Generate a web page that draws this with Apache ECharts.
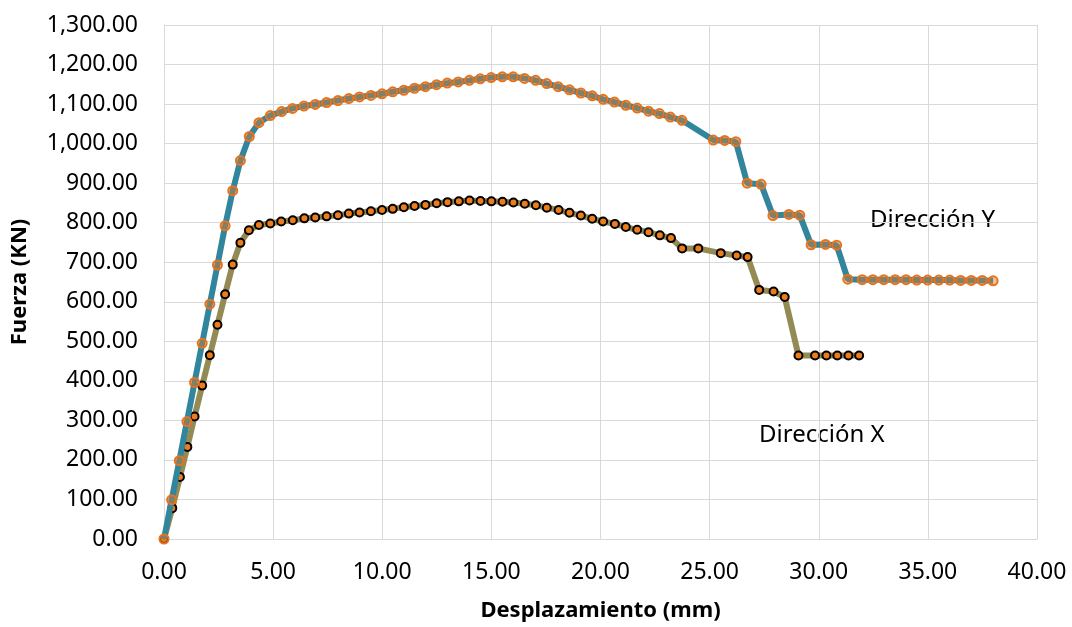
<!DOCTYPE html>
<html>
<head>
<meta charset="utf-8">
<script src="https://cdn.jsdelivr.net/npm/echarts@6/dist/echarts.min.js"></script>
<style>
  html, body { margin: 0; padding: 0; background: #ffffff; }
  #chart { width: 1072px; height: 627px; }
</style>
</head>
<body>
<div id="chart"></div>
<script>
// Desplazamiento (mm) y fuerza (KN), dirección Y
const dispY = [0,0.35,0.70,1.05,1.40,1.75,2.10,2.45,2.80,3.15,3.50,3.91,4.35,4.87,5.39,5.89,6.41,6.93,7.45,7.97,8.47,8.96,9.48,9.99,10.48,10.99,11.48,11.98,12.49,12.98,13.48,13.99,14.49,14.99,15.50,16.00,16.52,17.03,17.54,18.06,18.58,19.10,19.62,20.12,20.64,21.16,21.68,22.20,22.70,23.20,23.73,25.17,25.69,26.20,26.72,27.36,27.90,28.63,29.13,29.65,30.31,30.82,31.33,31.99,32.48,32.98,33.50,34.00,34.49,34.99,35.50,36.00,36.50,36.99,37.49,37.99];
const forceY = [0,99,198,297,396,495,594,693,792,881,957,1018,1053,1071,1081,1089,1095,1099,1104,1109,1114,1118,1122,1126,1131,1135,1140,1144,1149,1153,1156,1160,1164,1167,1169,1169,1165,1160,1152,1144,1136,1128,1121,1112,1105,1097,1090,1082,1076,1067,1059,1009,1008,1005,900,897,818,821,819,744,745,743,657,656,656,656,656,656,655,655,655,655,654,654,654,653];

// Desplazamiento (mm) y fuerza (KN), dirección X
const dispX = [0,0.38,0.73,1.07,1.40,1.75,2.10,2.45,2.80,3.15,3.50,3.89,4.35,4.87,5.37,5.90,6.43,6.93,7.45,7.97,8.47,8.96,9.48,9.99,10.48,10.99,11.48,11.98,12.49,12.99,13.51,14.00,14.50,15.00,15.51,16.01,16.53,17.04,17.54,18.08,18.58,19.10,19.62,20.12,20.66,21.16,21.68,22.20,22.72,23.23,23.74,24.48,25.51,26.24,26.74,27.27,27.93,28.44,29.07,29.83,30.35,30.85,31.36,31.85];
const forceX = [0,78,157,233,310,388,465,542,619,694,749,781,794,798,803,806,811,813,816,819,823,826,829,832,835,839,842,845,849,852,854,856,855,854,853,851,848,844,838,832,825,818,810,803,797,789,782,776,768,761,735,735,723,717,713,630,626,612,464,464,464,464,464,464];

const seriesNames = ['Dirección X', 'Dirección Y'];
const xTitle = 'Desplazamiento (mm)';
const yTitle = 'Fuerza (KN)';

const pairs = (xs, ys) => xs.map((x, i) => [x, ys[i]]);
const fmt2 = v => v.toLocaleString('en-US', { minimumFractionDigits: 2, maximumFractionDigits: 2 });

const FONT = '"Noto Sans", "Open Sans", sans-serif';
const GRID = '#d9d9d9';

const chart = echarts.init(document.getElementById('chart'), null, { renderer: 'canvas' });

chart.setOption({
  animation: false,
  backgroundColor: '#ffffff',
  grid: { left: 164, right: 35, top: 25, bottom: 86, containLabel: false },
  xAxis: {
    type: 'value', min: 0, max: 40, interval: 5,
    name: xTitle, nameLocation: 'middle', nameGap: 61,
    nameTextStyle: { fontFamily: FONT, fontSize: 22, fontWeight: 'bold', color: '#000' },
    axisLine: { show: true, lineStyle: { color: GRID, width: 1 } },
    axisTick: { show: false },
    axisLabel: { formatter: fmt2, fontFamily: FONT, fontSize: 23, color: '#000', margin: 22 },
    splitLine: { show: true, lineStyle: { color: GRID, width: 1 } }
  },
  yAxis: {
    type: 'value', min: 0, max: 1300, interval: 100,
    name: yTitle, nameLocation: 'middle', nameGap: 133, nameRotate: 90,
    nameTextStyle: { fontFamily: FONT, fontSize: 22, fontWeight: 'bold', color: '#000' },
    axisLine: { show: true, lineStyle: { color: GRID, width: 1 } },
    axisTick: { show: false },
    axisLabel: { formatter: fmt2, fontFamily: FONT, fontSize: 23, color: '#000', margin: 26 },
    splitLine: { show: true, lineStyle: { color: GRID, width: 1 } }
  },
  series: [
    {
      name: seriesNames[0], type: 'line', data: pairs(dispX, forceX),
      lineStyle: { color: '#948a54', width: 6 },
      symbol: 'circle', symbolSize: 8,
      itemStyle: { color: '#ed7d1c', borderColor: '#000000', borderWidth: 2 },
      z: 2
    },
    {
      name: seriesNames[1], type: 'line', data: pairs(dispY, forceY),
      lineStyle: { color: '#31859c', width: 6 },
      symbol: 'circle', symbolSize: 9,
      itemStyle: { color: 'rgba(228,120,40,0.45)', borderColor: '#e8731c', borderWidth: 2 },
      z: 3
    }
  ],
  graphic: [
    { type: 'text', left: 870, top: 208, style: { text: seriesNames[1], font: '24px ' + FONT, fill: '#000' } },
    { type: 'text', left: 759, top: 423, style: { text: seriesNames[0], font: '24px ' + FONT, fill: '#000' } }
  ]
});
</script>
</body>
</html>
